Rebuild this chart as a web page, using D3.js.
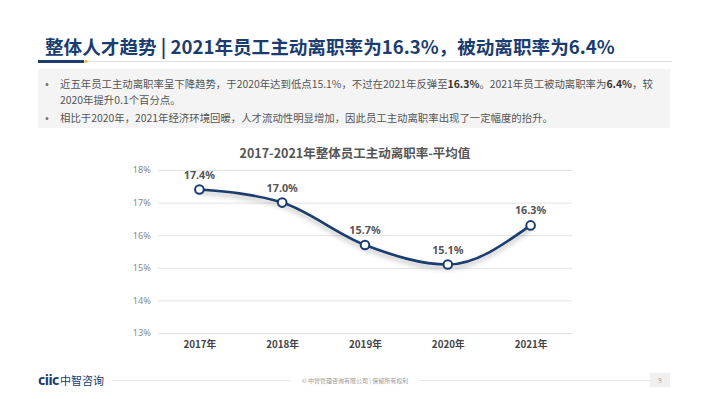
<!DOCTYPE html>
<html><head><meta charset="utf-8">
<script src="https://cdn.jsdelivr.net/npm/d3@7"></script>
<style>
body{margin:0;background:#fff;}
svg{display:block;font-family:"Noto Sans CJK SC","Noto Sans",sans-serif;}
</style></head>
<body>
<svg id="c" width="710" height="399"></svg>
<script>
const categories = ["2017年","2018年","2019年","2020年","2021年"];
const values = [17.4, 17.0, 15.7, 15.1, 16.3];
const yTicks = [13,14,15,16,17,18];
const pageTitle = "整体人才趋势 | 2021年员工主动离职率为16.3%，被动离职率为6.4%";
const chartTitle = "2017-2021年整体员工主动离职率-平均值";

const svg = d3.select("#c");
const navy = "#1a3c6e";

// defs
const defs = svg.append("defs");
const f = defs.append("filter").attr("id","sh").attr("x","-10%").attr("y","-30%").attr("width","120%").attr("height","180%");
f.append("feDropShadow").attr("dx",0).attr("dy",3).attr("stdDeviation",2.5).attr("flood-color","#000").attr("flood-opacity",0.3);

// page title
svg.append("text").attr("x",45).attr("y",54).attr("font-size",18.6).attr("font-weight","bold")
  .attr("fill",navy).text(pageTitle);
svg.append("line").attr("x1",84).attr("x2",672).attr("y1",61.5).attr("y2",61.5).attr("stroke","#e2e2e2").attr("stroke-width",1);
svg.append("rect").attr("x",38).attr("y",60).attr("width",46).attr("height",3).attr("fill",navy);
svg.append("circle").attr("cx",86).attr("cy",61.5).attr("r",1.6).attr("fill","#f2b632");

// bullet box
svg.append("rect").attr("x",38).attr("y",69).attr("width",632).attr("height",59).attr("fill","#f4f4f4");
const txt = svg.append("g").attr("font-size",10.4).attr("fill","#555");
function bullet(y){ txt.append("circle").attr("cx",47).attr("cy",y-3.5).attr("r",1.5).attr("fill","#777"); }
bullet(88); bullet(122);
const l1 = txt.append("text").attr("x",60).attr("y",88);
l1.append("tspan").text("近五年员工主动离职率呈下降趋势，于2020年达到低点15.1%，不过在2021年反弹至");
l1.append("tspan").attr("font-weight","bold").attr("fill","#333").text("16.3%");
l1.append("tspan").text("。2021年员工被动离职率为");
l1.append("tspan").attr("font-weight","bold").attr("fill","#333").text("6.4%");
l1.append("tspan").text("，较");
txt.append("text").attr("x",60).attr("y",104).text("2020年提升0.1个百分点。");
txt.append("text").attr("x",60).attr("y",122).text("相比于2020年，2021年经济环境回暖，人才流动性明显增加，因此员工主动离职率出现了一定幅度的抬升。");

// chart
const x = d3.scalePoint().domain(categories).range([158,572]).padding(0.5);
const y = d3.scaleLinear().domain([13,18]).range([333,170]);

svg.append("text").attr("x",355).attr("y",158).attr("text-anchor","middle").attr("font-size",12.5)
  .attr("font-weight","bold").attr("fill","#555").text(chartTitle);

const yAxis = svg.append("g").attr("transform","translate(158,0)")
  .call(d3.axisLeft(y).tickValues(yTicks).tickFormat(d=>d+"%").tickSize(-414).tickPadding(7));
yAxis.select(".domain").remove();
yAxis.selectAll(".tick line").attr("stroke","#e3e3e3");
yAxis.selectAll(".tick text").attr("fill","#888").attr("font-size",9.2).attr("font-family","Noto Sans, sans-serif");

const xAxis = svg.append("g").attr("transform","translate(0,333)")
  .call(d3.axisBottom(x).tickSize(0).tickPadding(8));
xAxis.select(".domain").remove();
xAxis.selectAll(".tick text").attr("fill","#444").attr("font-size",9.8).attr("font-weight","bold")
  .attr("font-family","Noto Sans CJK SC, sans-serif");

const pts = categories.map((c,i)=>({c, v:values[i]}));
svg.append("path").datum(pts)
  .attr("d", d3.line().x(d=>x(d.c)).y(d=>y(d.v)).curve(d3.curveMonotoneX))
  .attr("fill","none").attr("stroke",navy).attr("stroke-width",2.6).attr("filter","url(#sh)");
svg.selectAll("circle.pt").data(pts).join("circle").attr("class","pt")
  .attr("cx",d=>x(d.c)).attr("cy",d=>y(d.v)).attr("r",4.3)
  .attr("fill","#fff").attr("stroke",navy).attr("stroke-width",2);
svg.selectAll("text.lbl").data(pts).join("text").attr("class","lbl")
  .attr("x",d=>x(d.c)).attr("y",d=>y(d.v)-11).attr("text-anchor","middle")
  .attr("font-size",10.8).attr("font-weight","bold").attr("fill","#555")
  .attr("font-family","Noto Sans, sans-serif")
  .text(d=>d.v.toFixed(1)+"%");

// footer
const ft = svg.append("g");
ft.append("text").attr("x",38).attr("y",385).attr("font-size",14).attr("font-weight","bold")
  .attr("fill",navy).attr("font-family","Noto Sans, sans-serif").attr("letter-spacing",-0.5).text("ciic");
ft.append("text").attr("x",60).attr("y",385).attr("font-size",11).attr("fill",navy).text("中智咨询");
ft.append("line").attr("x1",112).attr("x2",290).attr("y1",380.5).attr("y2",380.5).attr("stroke","#e6e6e6");
ft.append("text").attr("x",355).attr("y",383).attr("text-anchor","middle").attr("font-size",6).attr("fill","#999")
  .text("© 中智管理咨询有限公司 | 保留所有权利");
ft.append("line").attr("x1",420).attr("x2",650).attr("y1",380.5).attr("y2",380.5).attr("stroke","#e6e6e6");
ft.append("rect").attr("x",650).attr("y",373).attr("width",20).attr("height",14).attr("fill","#f0f0f0");
ft.append("text").attr("x",660).attr("y",383).attr("text-anchor","middle").attr("font-size",6).attr("fill","#999").text("9");
</script>
</body></html>
